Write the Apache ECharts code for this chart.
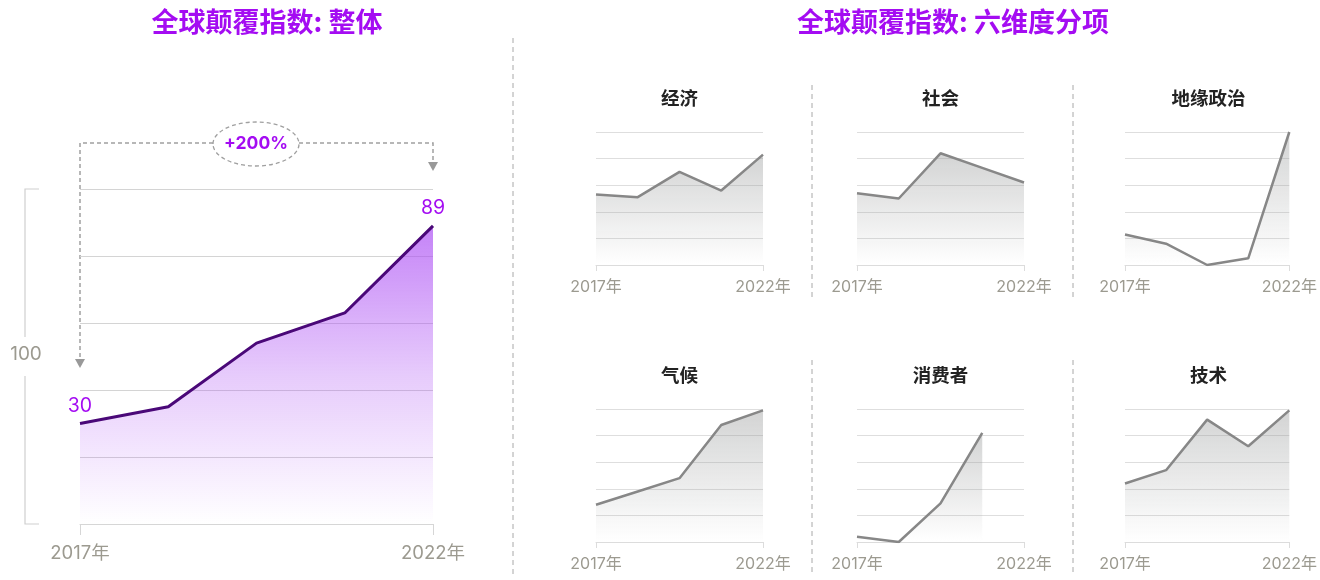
<!DOCTYPE html>
<html>
<head>
<meta charset="utf-8">
<script src="https://cdn.jsdelivr.net/npm/echarts@6/dist/echarts.min.js"></script>
<style>
  html, body { margin: 0; background: #fff; }
  #chart { width: 1320px; height: 580px; }
</style>
</head>
<body>
<div id="chart"></div>
<script>
// data
const years = ['2017年', '2018年', '2019年', '2020年', '2022年']
const overall = [30, 35, 54, 63, 89]
const overallChange = '+200%'
const overallAxisMax = 100
const panelNames = ['经济', '社会', '地缘政治', '气候', '消费者', '技术']
const economy = [53, 51, 70, 56, 83]
const society = [54, 50, 84, 73, 62]
const geopolitics = [23, 16, 0, 5, 100]
const climate = [28, 38, 48, 88, 99]
const consumer = [4, 0, 29, 82, null]
const technology = [44, 54, 92, 72, 99]
const panelValues = [economy, society, geopolitics, climate, consumer, technology]

const FONT = 'Inter, "Noto Sans CJK SC", sans-serif'
const PURPLE = '#a40cf2'
const GREY_TEXT = '#9c9a90'

// layout
const main = { left: 80, top: 189, width: 353, height: 335 }
const cols = [596, 857, 1125]
const rows = [132, 409]
const pw = 167, ph = 133

const firstLast = (i) => i === 0 || i === years.length - 1

const grids = [main]
const xAxes = []
const yAxes = []
const series = []

xAxes.push({
  gridIndex: 0, type: 'category', boundaryGap: false, data: years,
  axisLine: { lineStyle: { color: '#d6d6d6' } },
  axisTick: { length: 11, interval: firstLast, lineStyle: { color: '#d6d6d6' } },
  axisLabel: { interval: firstLast, color: GREY_TEXT, fontSize: 18.5, fontFamily: FONT, margin: 20 }
})
yAxes.push({
  gridIndex: 0, type: 'value', min: 0, max: overallAxisMax, interval: 20,
  axisLabel: { show: false }, axisLine: { show: false }, axisTick: { show: false },
  splitLine: { lineStyle: { color: '#d4d4d4' } }
})
series.push({
  type: 'line', xAxisIndex: 0, yAxisIndex: 0, silent: true,
  symbol: 'circle', symbolSize: 0,
  data: overall.map((v, i) => firstLast(i)
    ? { value: v, label: { show: true, position: 'top', distance: 8, color: PURPLE, fontSize: 19.5, fontFamily: FONT } }
    : v),
  lineStyle: { color: '#4a0878', width: 3 },
  areaStyle: {
    color: new echarts.graphic.LinearGradient(0, 0, 0, 1, [
      { offset: 0, color: 'rgba(172,78,244,1)' },
      { offset: 0.5, color: 'rgba(172,78,244,0.42)' },
      { offset: 1, color: 'rgba(172,78,244,0.0)' }
    ])
  }
})

const graphics = []

panelNames.forEach((name, k) => {
  const left = cols[k % 3], top = rows[Math.floor(k / 3)]
  const gi = k + 1
  grids.push({ left, top, width: pw, height: ph })
  xAxes.push({
    gridIndex: gi, type: 'category', boundaryGap: false, data: years,
    axisLine: { lineStyle: { color: '#dcdcdc' } },
    axisTick: { length: 6, interval: firstLast, lineStyle: { color: '#dcdcdc' } },
    axisLabel: { interval: firstLast, color: GREY_TEXT, fontSize: 16, fontFamily: FONT, margin: 14 }
  })
  yAxes.push({
    gridIndex: gi, type: 'value', min: 0, max: 100, interval: 20,
    axisLabel: { show: false }, axisLine: { show: false }, axisTick: { show: false },
    splitLine: { lineStyle: { color: '#dedede' } }
  })
  series.push({
    type: 'line', xAxisIndex: gi, yAxisIndex: gi, silent: true, symbol: 'none',
    data: panelValues[k],
    lineStyle: { color: '#878787', width: 2.5 },
    areaStyle: {
      color: new echarts.graphic.LinearGradient(0, 0, 0, 1, [
        { offset: 0, color: 'rgba(150,152,152,0.6)' },
        { offset: 1, color: 'rgba(150,152,152,0.0)' }
      ])
    }
  })
  graphics.push({
    type: 'text', x: left + pw / 2, y: top - 34,
    style: { text: name, font: 'bold 18.5px "Noto Sans CJK SC"', fill: '#222', textAlign: 'center', textVerticalAlign: 'middle' }
  })
})

// titles
graphics.push(
  { type: 'text', x: 267, y: 22, style: { text: '全球颠覆指数: 整体', font: 'bold 27px "Noto Sans CJK SC"', fill: PURPLE, textAlign: 'center', textVerticalAlign: 'middle' } },
  { type: 'text', x: 953, y: 22, style: { text: '全球颠覆指数: 六维度分项', font: 'bold 27px "Noto Sans CJK SC"', fill: PURPLE, textAlign: 'center', textVerticalAlign: 'middle' } }
)

// dividers
const dash = { stroke: '#a8a8a8', lineWidth: 1, lineDash: [5, 4] }
graphics.push({ type: 'line', shape: { x1: 513, y1: 38, x2: 513, y2: 578 }, style: dash })
;[812, 1073].forEach(x => {
  graphics.push({ type: 'line', shape: { x1: x, y1: 85, x2: x, y2: 298 }, style: dash })
  graphics.push({ type: 'line', shape: { x1: x, y1: 360, x2: x, y2: 575 }, style: dash })
})

// scale bracket on the left
const br = { stroke: '#cfcfcf', lineWidth: 1.2 }
const bTop = main.top, bBot = main.top + main.height
graphics.push(
  { type: 'polyline', shape: { points: [[39, bTop], [25, bTop], [25, 337]] }, style: br },
  { type: 'polyline', shape: { points: [[25, 376], [25, bBot], [39, bBot]] }, style: br },
  { type: 'text', x: 26, y: 354, style: { text: String(overallAxisMax), font: '19px ' + FONT, fill: GREY_TEXT, textAlign: 'center', textVerticalAlign: 'middle' } }
)

// change annotation
const xa = main.left, xb = main.left + main.width
const ann = { stroke: '#a0a0a0', lineWidth: 1.5, lineDash: [4, 3], fill: null }
graphics.push(
  { type: 'polyline', shape: { points: [[213, 143], [xa, 143], [xa, 360]] }, style: ann },
  { type: 'polyline', shape: { points: [[299, 143], [xb, 143], [xb, 162]] }, style: ann },
  { type: 'polygon', shape: { points: [[xa - 5, 359], [xa + 5, 359], [xa, 368]] }, style: { fill: '#999' } },
  { type: 'polygon', shape: { points: [[xb - 5, 162], [xb + 5, 162], [xb, 171]] }, style: { fill: '#999' } },
  { type: 'ellipse', shape: { cx: 256, cy: 144, rx: 43, ry: 22 }, style: { stroke: '#a0a0a0', lineWidth: 1.3, lineDash: [4, 3], fill: '#fff' } },
  { type: 'text', x: 256, y: 144, style: { text: overallChange, font: 'bold 17.5px ' + FONT, fill: PURPLE, textAlign: 'center', textVerticalAlign: 'middle' } }
)

const chart = echarts.init(document.getElementById('chart'))
chart.setOption({
  animation: false,
  grid: grids,
  xAxis: xAxes,
  yAxis: yAxes,
  series,
  graphic: graphics
})
</script>
</body>
</html>
